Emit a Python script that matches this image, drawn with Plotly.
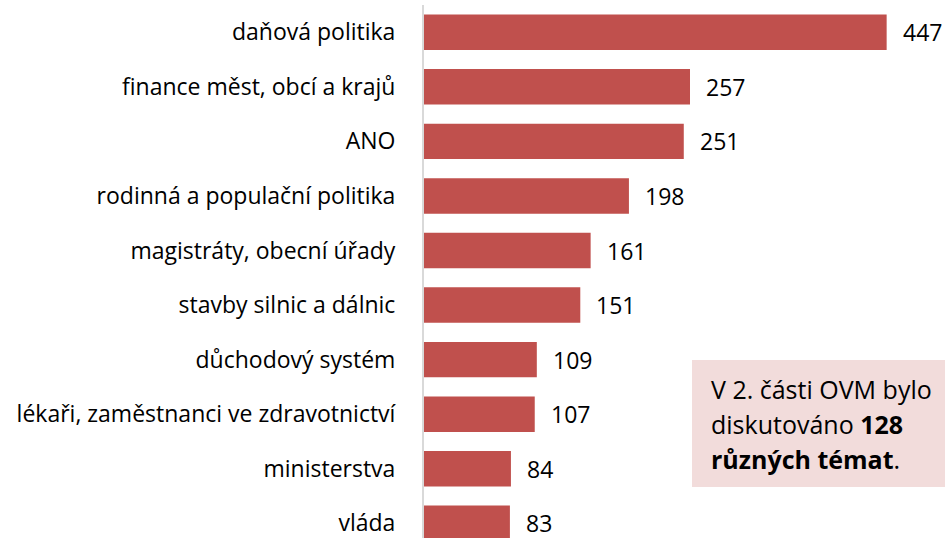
import plotly.graph_objects as go

categories = [
    "daňová politika",
    "finance měst, obcí a krajů",
    "ANO",
    "rodinná a populační politika",
    "magistráty, obecní úřady",
    "stavby silnic a dálnic",
    "důchodový systém",
    "lékaři, zaměstnanci ve zdravotnictví",
    "ministerstva",
    "vláda",
]
values = [447, 257, 251, 198, 161, 151, 109, 107, 84, 83]

note_lines = [
    "V 2. části OVM bylo",
    "diskutováno <b>128</b>",
    "<b>různých témat</b>.",
]

FONT = "Open Sans"
BAR = "#C0504D"

fig = go.Figure()
fig.add_trace(go.Bar(
    x=values, y=categories, orientation="h",
    marker=dict(color=BAR, line=dict(width=0)),
    hoverinfo="x+y",
))

for c, v in zip(categories, values):
    fig.add_annotation(
        x=v, y=c, xref="x", yref="y", text=str(v), showarrow=False,
        xanchor="left", yanchor="middle", xshift=14,
        font=dict(family=FONT, size=23, color="#000000"),
    )

# note box
L, R, T, B = 424, 0, 5, 0
W, H = 945 - L - R, 538 - T - B
def px(x):
    return (x - L) / W
def py(y):
    return 1 - (y - T) / H

fig.add_shape(type="rect", xref="paper", yref="paper",
              x0=px(692), x1=px(945), y0=py(487), y1=py(360),
              fillcolor="#F2DCDB", line=dict(width=0), layer="above")
for i, line in enumerate(note_lines):
    fig.add_annotation(
        x=px(709), y=py(389 + 35 * i), xref="paper", yref="paper",
        text=line, showarrow=False, xanchor="left", yanchor="middle",
        font=dict(family=FONT, size=25, color="#000000"),
    )

fig.update_layout(
    width=945, height=538,
    margin=dict(l=L, r=R, t=T, b=B, autoexpand=False),
    plot_bgcolor="white", paper_bgcolor="white",
    bargap=0.35, showlegend=False,
    font=dict(family=FONT, size=23, color="#000000"),
)
fig.update_xaxes(range=[0, W / 1.035], visible=False, showgrid=False, zeroline=False)
fig.update_yaxes(
    range=[9.27, -0.5], showgrid=False, zeroline=False,
    showline=True, linecolor="#D9D9D9", linewidth=2,
    ticks="", ticklabelstandoff=22,
    tickfont=dict(family=FONT, size=23, color="#000000"),
)

fig.write_html(
    "out.html",
    config={"displayModeBar": False},
    post_script="document.body.style.margin='0';document.body.style.overflow='hidden';",
)
